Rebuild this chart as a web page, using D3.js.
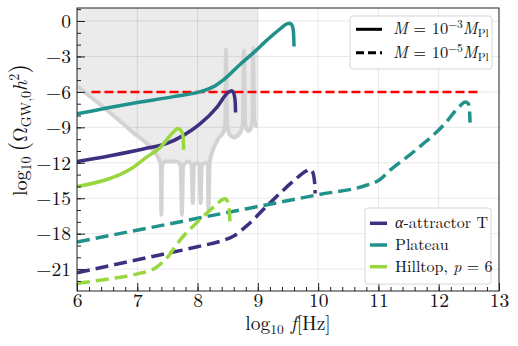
<!DOCTYPE html>
<html>
<head>
<meta charset="utf-8">
<script src="https://cdn.jsdelivr.net/npm/d3@7"></script>
<style>
	body{ margin:0; background:#fff; }
	svg{ display:block; }
	svg text{ font-family:"Latin Modern Roman","Liberation Serif",serif; }
</style>
</head>
<body>
<svg id="vis" width="518" height="346"></svg>
<script>
// log10 f [Hz], log10 Omega h^2
var alphaSolid   = [[6,-11.9],[6.55,-11.4],[7.1,-10.83],[7.49,-10.36],[7.76,-9.7],[8.04,-8.71],[8.32,-7.3],[8.51,-6.03],[8.57,-5.9],[8.61,-6.3],[8.625,-6.9],[8.63,-7.75]];
var plateauSolid = [[6,-7.86],[7.0,-6.9],[7.6,-6.4],[8.1,-5.9],[8.3,-5.45],[8.45,-4.9],[8.7,-3.7],[8.92,-2.72],[9.15,-1.62],[9.37,-0.66],[9.49,-0.22],[9.53,-0.18],[9.57,-0.4],[9.59,-0.9],[9.6,-2.16]];
var hilltopSolid = [[6,-14.0],[6.44,-13.5],[6.71,-13.0],[6.93,-12.4],[7.16,-11.5],[7.38,-10.7],[7.6,-9.4],[7.67,-9.1],[7.73,-9.3],[7.76,-9.8],[7.77,-10.9]];

var alphaDash    = [[6,-21.3],[7,-20.2],[8,-19.1],[8.4,-18.6],[8.6,-18.2],[8.8,-17.4],[9.2,-15.4],[9.6,-13.5],[9.8,-12.7],[9.86,-12.55],[9.91,-12.8],[9.94,-13.6],[9.95,-14.6]];
var plateauDash  = [[6,-18.7],[8,-16.7],[10,-14.7],[10.8,-13.9],[11.0,-13.5],[11.2,-12.6],[11.6,-11.0],[12.1,-8.7],[12.35,-7.2],[12.44,-6.85],[12.49,-7.0],[12.51,-7.5],[12.52,-8.6]];
var hilltopDash  = [[6,-22.2],[6.5,-21.85],[7,-21.4],[7.3,-20.9],[7.5,-20.0],[7.7,-18.6],[8.0,-17.0],[8.3,-15.6],[8.41,-15.12],[8.46,-15.05],[8.5,-15.3],[8.525,-16.0],[8.54,-17.2]];

var bbnLine = [[6.24,-6],[12.71,-6]];

// detector sensitivity boundary (shaded above)
var detector = [[6,-5.5],[6.9,-9.3],[7.3,-11.2],[7.36,-11.7],[7.39,-12.2],[7.4,-16.4],[7.41,-12.3],[7.46,-11.9],[7.66,-11.9],[7.72,-12.3],[7.74,-16.4],[7.76,-12.3],[7.85,-11.9],[7.9,-12.2],[7.92,-15.4],[7.94,-12.2],[8.0,-12.0],[8.03,-12.2],[8.05,-15.4],[8.07,-12.2],[8.14,-12.0],[8.17,-12.2],[8.18,-16.0],[8.2,-12.0],[8.25,-11.0],[8.35,-9.9],[8.43,-9.4],[8.46,-8.6],[8.47,-2.4],[8.49,-8.6],[8.53,-9.6],[8.6,-9.85],[8.7,-9.5],[8.75,-8.8],[8.77,-2.5],[8.79,-8.8],[8.84,-9.3],[8.88,-9.1],[8.91,-8.5],[8.92,-2.3],[8.94,-8.5],[8.98,-8.9],[9.0,-8.9]];

var xTicks = [6,7,8,9,10,11,12,13];
var yTicks = [-21,-18,-15,-12,-9,-6,-3,0];

var cAlpha = '#3f2f80', cPlateau = '#21918c', cHill = '#98d83e';

window.onload = function(){

	return {

		left:77, right:499, top:8, bottom:291,
		font:'"Latin Modern Roman","Liberation Serif",serif',

		draw:function(){
			var self = this;
			var svg = d3.select('#vis');

			var x = d3.scaleLinear().domain([6,13]).range([self.left,self.right]);
			var y = d3.scaleLinear().domain([-22.85,1.1]).range([self.bottom,self.top]);

			svg.append('defs').append('clipPath').attr('id','clip')
				.append('rect')
				.attr('x',self.left).attr('y',self.top)
				.attr('width',self.right-self.left).attr('height',self.bottom-self.top);

			var plot = svg.append('g').attr('clip-path','url(#clip)');

			// shaded region
			var area = d3.area()
				.x(function(d){ return x(d[0]); })
				.y0(y(1.1))
				.y1(function(d){ return y(d[1]); });
			plot.append('path')
				.datum(detector)
				.attr('d',area)
				.attr('fill','#ebebeb');

			// grid
			plot.selectAll('line.gx').data(xTicks).enter().append('line')
				.attr('x1',function(d){ return x(d); }).attr('x2',function(d){ return x(d); })
				.attr('y1',self.top).attr('y2',self.bottom)
				.attr('stroke','rgba(0,0,0,0.09)').attr('stroke-width',1);
			plot.selectAll('line.gy').data(yTicks).enter().append('line')
				.attr('y1',function(d){ return y(d); }).attr('y2',function(d){ return y(d); })
				.attr('x1',self.left).attr('x2',self.right)
				.attr('stroke','rgba(0,0,0,0.09)').attr('stroke-width',1);

			var lin = d3.line()
				.x(function(d){ return x(d[0]); })
				.y(function(d){ return y(d[1]); });
			var smooth = d3.line()
				.x(function(d){ return x(d[0]); })
				.y(function(d){ return y(d[1]); })
				.curve(d3.curveMonotoneX);

			plot.append('path')
				.datum(detector)
				.attr('d',smooth)
				.attr('fill','none')
				.attr('stroke','#d3d3d3')
				.attr('stroke-width',4)
				.attr('stroke-linejoin','round');

			plot.append('path')
				.datum(bbnLine)
				.attr('d',lin)
				.attr('fill','none')
				.attr('stroke','#ff0000')
				.attr('stroke-width',2.5)
				.attr('stroke-dasharray','9,4');

			var series = [
				{d:alphaSolid, c:cAlpha, dash:null},
				{d:plateauSolid, c:cPlateau, dash:null},
				{d:hilltopSolid, c:cHill, dash:null},
				{d:alphaDash, c:cAlpha, dash:'13,6'},
				{d:plateauDash, c:cPlateau, dash:'13,6'},
				{d:hilltopDash, c:cHill, dash:'13,6'}
			];
			plot.selectAll('path.curve').data(series).enter().append('path')
				.classed('curve',true)
				.attr('d',function(s){ return smooth(s.d); })
				.attr('fill','none')
				.attr('stroke',function(s){ return s.c; })
				.attr('stroke-width',3.5)
				.attr('stroke-linejoin','round')
				.attr('stroke-dasharray',function(s){ return s.dash; });

			// frame
			svg.append('rect')
				.attr('x',self.left).attr('y',self.top)
				.attr('width',self.right-self.left).attr('height',self.bottom-self.top)
				.attr('fill','none').attr('stroke','#222').attr('stroke-width',1);

			var fmt = function(d){ return d < 0 ? '\u2212'+Math.abs(d) : ''+d; };

			var xAxis = d3.axisBottom(x).tickValues(xTicks).tickSizeInner(-8).tickSizeOuter(0).tickPadding(2).tickFormat(fmt);
			var xMinor = d3.axisBottom(x).tickValues(d3.range(6,13.01,0.2)).tickSize(-4).tickFormat('');
			var yAxis = d3.axisLeft(y).tickValues(yTicks).tickSizeInner(-8).tickSizeOuter(0).tickPadding(6).tickFormat(fmt);
			var yMinor = d3.axisLeft(y).tickValues(d3.range(-22,1.01,1)).tickSize(-4).tickFormat('');

			[[xMinor,'translate(0,'+self.bottom+')'],[xAxis,'translate(0,'+self.bottom+')'],
			 [yMinor,'translate('+self.left+',0)'],[yAxis,'translate('+self.left+',0)']].forEach(function(a){
				var g = svg.append('g').attr('transform',a[1]).call(a[0]);
				g.attr('font-family',null).attr('font-size',null);
				g.select('.domain').remove();
				g.selectAll('line').attr('stroke','#222');
				g.selectAll('text')
					.style('font-family',self.font)
					.style('font-size','19.5px')
					.attr('fill','#111');
			});

			self.labels(svg);
			self.legends(svg);
		},

		rich:function(t,parts){
			parts.forEach(function(p){
				var sp = t.append('tspan').text(p.t);
				if(p.i){ sp.attr('font-style','italic'); }
				if(p.s){ sp.attr('font-size',p.s); }
				if(p.dy){ sp.attr('dy',p.dy); }
			});
		},

		labels:function(svg){
			var self = this;
			var xl = svg.append('text')
				.attr('x',288).attr('y',330)
				.attr('text-anchor','middle')
				.attr('font-size',19.5).attr('fill','#111');
			self.rich(xl,[{t:'log'},{t:'10',s:13.5,dy:4},{t:' f',i:1,dy:-4},{t:'[Hz]'}]);

			var yl = svg.append('text')
				.attr('transform','translate(27,130) rotate(-90)')
				.attr('text-anchor','middle')
				.attr('font-size',20).attr('fill','#111');
			self.rich(yl,[{t:'log'},{t:'10',s:14,dy:4},{t:'\u2009(',s:25,dy:-4},{t:'\u03a9'},{t:'GW,0',s:14,dy:4},{t:'h',i:1,dy:-4},{t:'2',s:14,dy:-8},{t:')',s:25,dy:8}]);
		},

		legends:function(svg){
			var self = this;

			var g1 = svg.append('g');
			g1.append('rect')
				.attr('x',350).attr('y',16).attr('width',142).attr('height',53).attr('rx',3)
				.attr('fill','rgba(255,255,255,0.85)').attr('stroke','#d6d6d6');
			[[29.3,null,'\u22123'],[52.7,'8,4','\u22125']].forEach(function(e){
				g1.append('line')
					.attr('x1',356).attr('x2',382).attr('y1',e[0]).attr('y2',e[0])
					.attr('stroke','#000').attr('stroke-width',3)
					.attr('stroke-dasharray',e[1]);
				var t = g1.append('text')
					.attr('x',393).attr('y',e[0]+5)
					.attr('font-size',16.5).attr('fill','#111');
				self.rich(t,[{t:'M',i:1},{t:' = 10'},{t:e[2],s:11.5,dy:-6},{t:'M',i:1,dy:6},{t:'Pl',s:11.5,dy:3}]);
			});

			var g2 = svg.append('g');
			g2.append('rect')
				.attr('x',365).attr('y',208).attr('width',126).attr('height',76).attr('rx',3)
				.attr('fill','rgba(255,255,255,0.85)').attr('stroke','#d6d6d6');
			var items = [
				{c:cAlpha, p:[{t:'\u03b1',i:1},{t:'-attractor T'}]},
				{c:cPlateau, p:[{t:'Plateau'}]},
				{c:cHill, p:[{t:'Hilltop, '},{t:'p',i:1},{t:' = 6'}]}
			];
			items.forEach(function(it,i){
				var yy = 223.3 + i*21.7;
				g2.append('line')
					.attr('x1',370).attr('x2',387).attr('y1',yy).attr('y2',yy)
					.attr('stroke',it.c).attr('stroke-width',3.5);
				var t = g2.append('text')
					.attr('x',395).attr('y',yy+5)
					.attr('font-size',16).attr('fill','#111');
				self.rich(t,it.p);
			});
		}
	}
}().draw();
</script>
</body>
</html>
